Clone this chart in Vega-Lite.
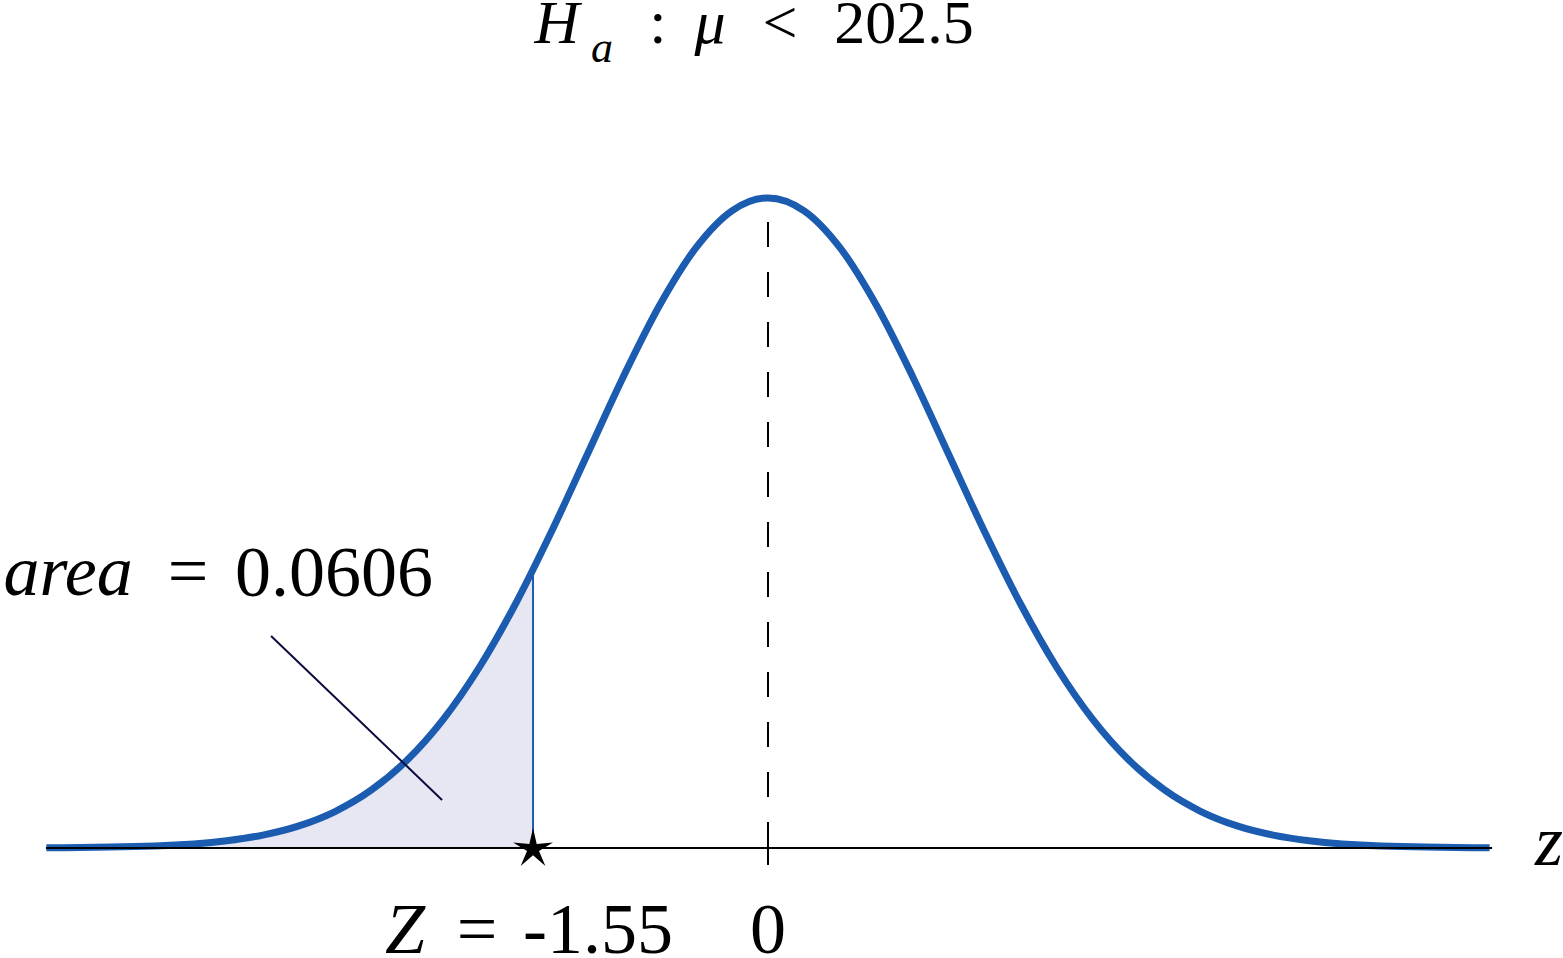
{
  "$schema": "https://vega.github.io/schema/vega-lite/v6.json",
  "width": 1563,
  "height": 958,
  "padding": 0,
  "autosize": {"type": "none"},
  "background": "white",
  "config": {"view": {"stroke": null}},
  "layer": [
    {
      "data": {"values": [
        {"x": -4.76, "y": 0.00013},
        {"x": -4.046, "y": 0.00123},
        {"x": -3.57, "y": 0.00443},
        {"x": -3.332, "y": 0.00792},
        {"x": -3.094, "y": 0.01358},
        {"x": -2.856, "y": 0.02239},
        {"x": -2.618, "y": 0.03547},
        {"x": -2.38, "y": 0.05399},
        {"x": -2.142, "y": 0.07895},
        {"x": -1.904, "y": 0.11092},
        {"x": -1.666, "y": 0.14973},
        {"x": -1.55, "y": 0.17079}
      ]},
      "mark": {"type": "area", "color": "#e7e7f3", "interpolate": "monotone"},
      "encoding": {
        "x": {"field": "x", "type": "quantitative", "scale": {"domain": [-5.066, 5.244], "nice": false, "zero": false}, "axis": null},
        "y": {"field": "y", "type": "quantitative", "scale": {"domain": [-0.0675, 0.5204], "nice": false, "zero": false}, "axis": null}
      }
    },
    {
      "data": {"values": [
        {"x": 0, "y": 0.3842, "y2": 0}
      ]},
      "mark": {"type": "rule", "color": "black", "strokeWidth": 2, "strokeDash": [25, 25]},
      "encoding": {
        "x": {"field": "x", "type": "quantitative", "scale": {"domain": [-5.066, 5.244], "nice": false, "zero": false}, "axis": null},
        "y": {"field": "y", "type": "quantitative", "scale": {"domain": [-0.0675, 0.5204], "nice": false, "zero": false}, "axis": null},
        "y2": {"field": "y2"}
      }
    },
    {
      "data": {"values": [
        {"x": 0, "y": 0, "x2": 0, "y2": -0.0104}
      ]},
      "mark": {"type": "rule", "color": "black", "strokeWidth": 2},
      "encoding": {
        "x": {"field": "x", "type": "quantitative", "scale": {"domain": [-5.066, 5.244], "nice": false, "zero": false}, "axis": null},
        "y": {"field": "y", "type": "quantitative", "scale": {"domain": [-0.0675, 0.5204], "nice": false, "zero": false}, "axis": null},
        "x2": {"field": "x2"},
        "y2": {"field": "y2"}
      }
    },
    {
      "data": {"values": [
        {"x": -1.55, "y": 0, "y2": 0.17079}
      ]},
      "mark": {"type": "rule", "color": "#1c5cb0", "strokeWidth": 2},
      "encoding": {
        "x": {"field": "x", "type": "quantitative", "scale": {"domain": [-5.066, 5.244], "nice": false, "zero": false}, "axis": null},
        "y": {"field": "y", "type": "quantitative", "scale": {"domain": [-0.0675, 0.5204], "nice": false, "zero": false}, "axis": null},
        "y2": {"field": "y2"}
      }
    },
    {
      "data": {"values": [
        {"x": -4.76, "y": 0.00013},
        {"x": -4.046, "y": 0.00123},
        {"x": -3.57, "y": 0.00443},
        {"x": -3.332, "y": 0.00792},
        {"x": -3.094, "y": 0.01358},
        {"x": -2.856, "y": 0.02239},
        {"x": -2.618, "y": 0.03547},
        {"x": -2.38, "y": 0.05399},
        {"x": -2.142, "y": 0.07895},
        {"x": -1.904, "y": 0.11092},
        {"x": -1.666, "y": 0.14973},
        {"x": -1.428, "y": 0.19419},
        {"x": -1.19, "y": 0.24197},
        {"x": -0.952, "y": 0.28969},
        {"x": -0.714, "y": 0.33322},
        {"x": -0.476, "y": 0.36827},
        {"x": -0.238, "y": 0.39104},
        {"x": 0, "y": 0.39894},
        {"x": 0.238, "y": 0.39104},
        {"x": 0.476, "y": 0.36827},
        {"x": 0.714, "y": 0.33322},
        {"x": 0.952, "y": 0.28969},
        {"x": 1.19, "y": 0.24197},
        {"x": 1.428, "y": 0.19419},
        {"x": 1.666, "y": 0.14973},
        {"x": 1.904, "y": 0.11092},
        {"x": 2.142, "y": 0.07895},
        {"x": 2.38, "y": 0.05399},
        {"x": 2.618, "y": 0.03547},
        {"x": 2.856, "y": 0.02239},
        {"x": 3.094, "y": 0.01358},
        {"x": 3.332, "y": 0.00792},
        {"x": 3.57, "y": 0.00443},
        {"x": 4.046, "y": 0.00123},
        {"x": 4.76, "y": 0.00013}
      ]},
      "mark": {"type": "line", "color": "#1c5cb0", "strokeWidth": 7, "interpolate": "monotone", "strokeCap": "butt"},
      "encoding": {
        "x": {"field": "x", "type": "quantitative", "scale": {"domain": [-5.066, 5.244], "nice": false, "zero": false}, "axis": null},
        "y": {"field": "y", "type": "quantitative", "scale": {"domain": [-0.0675, 0.5204], "nice": false, "zero": false}, "axis": null}
      }
    },
    {
      "data": {"values": [
        {"x": -4.763, "y": 0, "x2": 4.776, "y2": 0}
      ]},
      "mark": {"type": "rule", "color": "black", "strokeWidth": 2},
      "encoding": {
        "x": {"field": "x", "type": "quantitative", "scale": {"domain": [-5.066, 5.244], "nice": false, "zero": false}, "axis": null},
        "y": {"field": "y", "type": "quantitative", "scale": {"domain": [-0.0675, 0.5204], "nice": false, "zero": false}, "axis": null},
        "x2": {"field": "x2"},
        "y2": {"field": "y2"}
      }
    },
    {
      "data": {"values": [
        {"x": -3.278, "y": 0.1301, "x2": -2.15, "y2": 0.0295}
      ]},
      "mark": {"type": "rule", "color": "#0b0b40", "strokeWidth": 2},
      "encoding": {
        "x": {"field": "x", "type": "quantitative", "scale": {"domain": [-5.066, 5.244], "nice": false, "zero": false}, "axis": null},
        "y": {"field": "y", "type": "quantitative", "scale": {"domain": [-0.0675, 0.5204], "nice": false, "zero": false}, "axis": null},
        "x2": {"field": "x2"},
        "y2": {"field": "y2"}
      }
    },
    {
      "data": {"values": [
        {"x": -1.55, "y": -0.0006}
      ]},
      "mark": {"type": "point", "filled": true, "color": "black", "opacity": 1, "size": 1764,
        "shape": "M0,-1L0.176,-0.243L0.951,-0.309L0.285,0.093L0.588,0.809L0,0.3L-0.588,0.809L-0.285,0.093L-0.951,-0.309L-0.176,-0.243Z"},
      "encoding": {
        "x": {"field": "x", "type": "quantitative", "scale": {"domain": [-5.066, 5.244], "nice": false, "zero": false}, "axis": null},
        "y": {"field": "y", "type": "quantitative", "scale": {"domain": [-0.0675, 0.5204], "nice": false, "zero": false}, "axis": null}
      }
    },
    {
      "data": {"values": [
        {"x": -4.617, "y": 0.1553, "t": "area"},
        {"x": -2.394, "y": -0.0645, "t": "Z"},
        {"x": 5.152, "y": -0.0104, "t": "z"}
      ]},
      "mark": {"type": "text", "font": "Liberation Serif", "fontStyle": "italic", "fontSize": 72, "align": "center", "baseline": "alphabetic", "color": "black"},
      "encoding": {
        "x": {"field": "x", "type": "quantitative", "scale": {"domain": [-5.066, 5.244], "nice": false, "zero": false}, "axis": null},
        "y": {"field": "y", "type": "quantitative", "scale": {"domain": [-0.0675, 0.5204], "nice": false, "zero": false}, "axis": null},
        "text": {"field": "t"}
      }
    },
    {
      "data": {"values": [
        {"x": -3.826, "y": 0.1553, "t": "="},
        {"x": -2.863, "y": 0.1547, "t": "0.0606"},
        {"x": -1.92, "y": -0.0645, "t": "="},
        {"x": -1.121, "y": -0.0645, "t": "-1.55"},
        {"x": 0, "y": -0.0645, "t": "0"}
      ]},
      "mark": {"type": "text", "font": "Liberation Serif", "fontSize": 72, "align": "center", "baseline": "alphabetic", "color": "black"},
      "encoding": {
        "x": {"field": "x", "type": "quantitative", "scale": {"domain": [-5.066, 5.244], "nice": false, "zero": false}, "axis": null},
        "y": {"field": "y", "type": "quantitative", "scale": {"domain": [-0.0675, 0.5204], "nice": false, "zero": false}, "axis": null},
        "text": {"field": "t"}
      }
    },
    {
      "data": {"values": [
        {"x": -1.392, "y": 0.494, "t": "H"},
        {"x": -0.383, "y": 0.494, "t": "μ"}
      ]},
      "mark": {"type": "text", "font": "Liberation Serif", "fontStyle": "italic", "fontSize": 62, "align": "center", "baseline": "alphabetic", "color": "black"},
      "encoding": {
        "x": {"field": "x", "type": "quantitative", "scale": {"domain": [-5.066, 5.244], "nice": false, "zero": false}, "axis": null},
        "y": {"field": "y", "type": "quantitative", "scale": {"domain": [-0.0675, 0.5204], "nice": false, "zero": false}, "axis": null},
        "text": {"field": "t"}
      }
    },
    {
      "data": {"values": [
        {"x": -0.726, "y": 0.494, "t": ":"},
        {"x": 0.079, "y": 0.494, "t": "<"},
        {"x": 0.897, "y": 0.494, "t": "202.5"}
      ]},
      "mark": {"type": "text", "font": "Liberation Serif", "fontSize": 62, "align": "center", "baseline": "alphabetic", "color": "black"},
      "encoding": {
        "x": {"field": "x", "type": "quantitative", "scale": {"domain": [-5.066, 5.244], "nice": false, "zero": false}, "axis": null},
        "y": {"field": "y", "type": "quantitative", "scale": {"domain": [-0.0675, 0.5204], "nice": false, "zero": false}, "axis": null},
        "text": {"field": "t"}
      }
    },
    {
      "data": {"values": [
        {"x": -1.095, "y": 0.4824, "t": "a"}
      ]},
      "mark": {"type": "text", "font": "Liberation Serif", "fontStyle": "italic", "fontSize": 44, "align": "center", "baseline": "alphabetic", "color": "black"},
      "encoding": {
        "x": {"field": "x", "type": "quantitative", "scale": {"domain": [-5.066, 5.244], "nice": false, "zero": false}, "axis": null},
        "y": {"field": "y", "type": "quantitative", "scale": {"domain": [-0.0675, 0.5204], "nice": false, "zero": false}, "axis": null},
        "text": {"field": "t"}
      }
    }
  ]
}
